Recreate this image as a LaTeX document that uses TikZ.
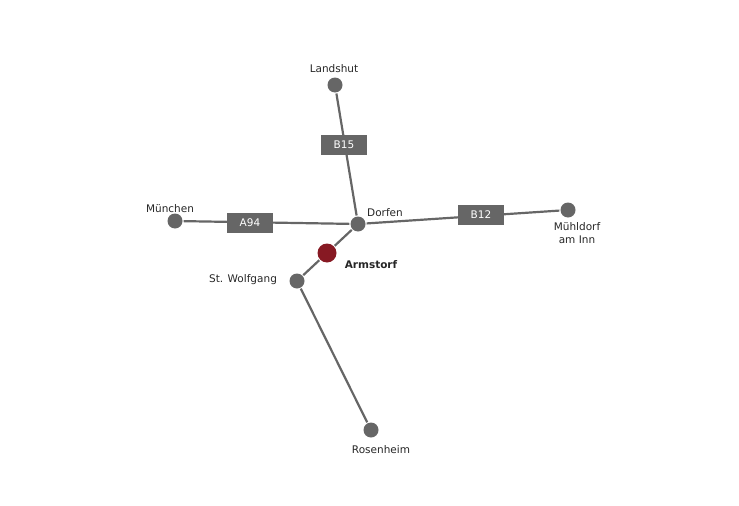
\documentclass[tikz,border=0pt]{standalone}
\usepackage{fontspec}
\setmainfont{DejaVu Sans}
\usetikzlibrary{positioning}

\begin{document}
\begin{tikzpicture}[x=1pt,y=-1pt,font=\fontsize{10.5}{12.5}\selectfont,line width=2.2pt]
  \definecolor{armred}{RGB}{135,25,35}
  \tikzset{town/.style={circle,fill=black!60,inner sep=0pt,minimum size=15pt},
           home/.style={circle,fill=armred,inner sep=0pt,minimum size=19pt},
           road/.style={fill=black!60,text=white,minimum width=46pt,minimum height=20pt,inner sep=0pt},
           lbl/.style={text=black!85}}
  \useasboundingbox (0,0) rectangle (739,506);

  \node[town] (landshut)  at (335,85)  {};
  \node[town] (dorfen)    at (358,224) {};
  \node[town] (muenchen)  at (175,221) {};
  \node[town] (muehldorf) at (568,210) {};
  \node[town] (wolfgang)  at (297,281) {};
  \node[town] (rosenheim) at (371,430) {};
  \node[home] (armstorf)  at (327,253) {};

  \draw[black!60] (landshut) -- (dorfen)
                  (muenchen) -- (dorfen)
                  (dorfen) -- (muehldorf)
                  (dorfen) -- (armstorf)
                  (armstorf) -- (wolfgang)
                  (wolfgang) -- (rosenheim);

  \node[road] (b15) at (344,145) {B15};
  \node[road] (a94) at (250,223) {A94};
  \node[road] (b12) at (481,215) {B12};

  \node[lbl] at (334,69)  {Landshut};
  \node[lbl] at (170,209) {München};
  \node[lbl] at (385,213) {Dorfen};
  \node[lbl,align=center] at (577,233) {Mühldorf\\am Inn};
  \node[lbl,font=\fontsize{10.5}{12.5}\selectfont\bfseries] at (371,265) {Armstorf};
  \node[lbl] at (243,280) {St. Wolfgang};
  \node[lbl] at (381,450) {Rosenheim};
\end{tikzpicture}
\end{document}
